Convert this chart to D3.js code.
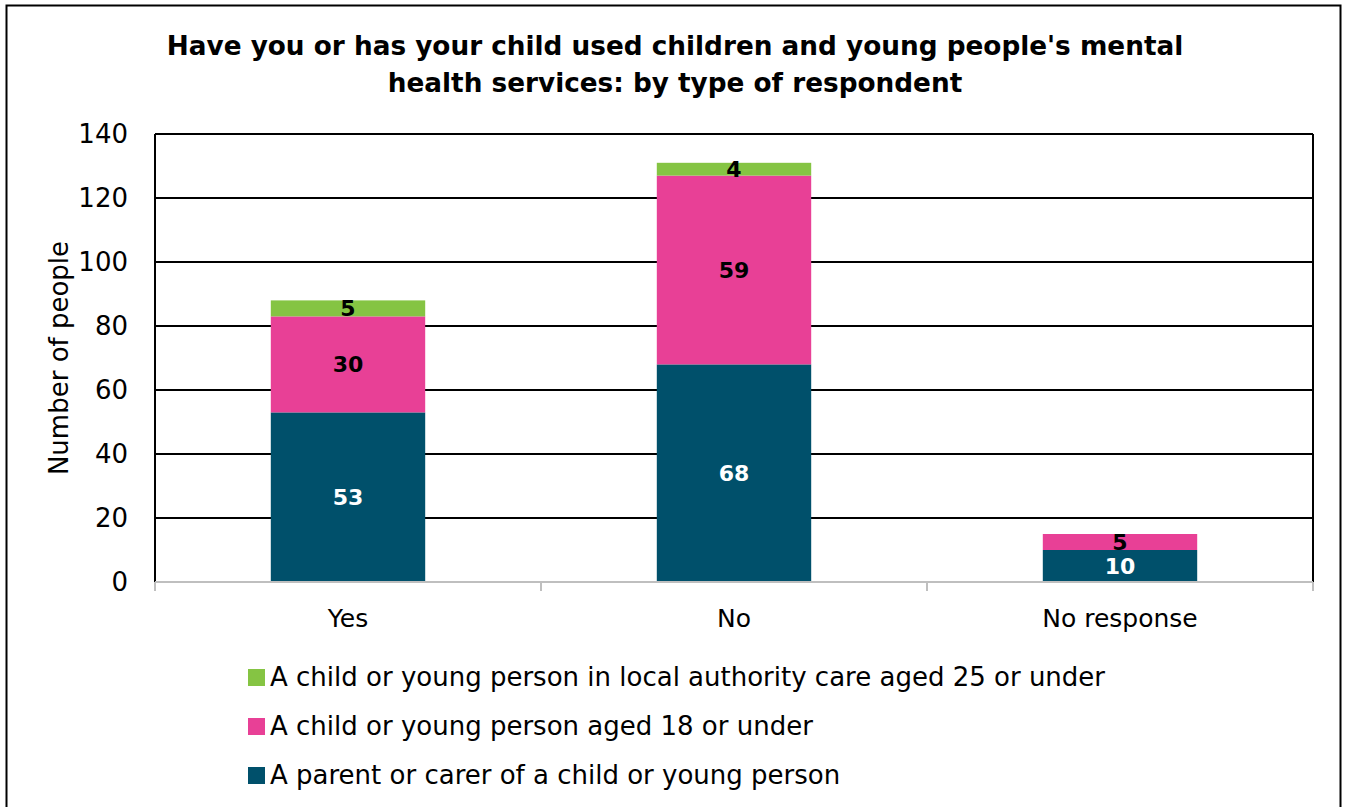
<!DOCTYPE html>
<html lang="en">
<head>
<meta charset="UTF-8"/>
<title>Mental health services by type of respondent</title>
<script src="https://d3js.org/d3.v7.min.js"></script>
<style>
  body { margin: 0; background: #fff; }
  svg { font-family: "DejaVu Sans", sans-serif; }
</style>
</head>
<body>
<script>
    // chart data
    var categories = ["Yes", "No", "No response"];
    var seriesNames = [
        "A parent or carer of a child or young person",
        "A child or young person aged 18 or under",
        "A child or young person in local authority care aged 25 or under"
    ];
    var parentValues = [53, 68, 10];
    var childValues = [30, 59, 5];
    var careValues = [5, 4, 0];
    var yTicks = [0, 20, 40, 60, 80, 100, 120, 140];
    var colours = ["#00506b", "#e84096", "#85c443"];

    var w = 1345, h = 807;
    var plotLeft = 155, plotRight = 1313, plotTop = 134, plotBottom = 582;

    var svg = d3.select("body").append("svg")
        .attr("width", w)
        .attr("height", h);

    // outer frame
    svg.append("rect")
        .attr("x", 6.5).attr("y", 5.5)
        .attr("width", 1334).attr("height", 820)
        .attr("fill", "none").attr("stroke", "#000").attr("stroke-width", 2);

    // title
    svg.append("text")
        .attr("x", 675).attr("y", 55)
        .attr("text-anchor", "middle")
        .attr("font-size", "26.3px").attr("font-weight", "bold")
        .text("Have you or has your child used children and young people's mental");
    svg.append("text")
        .attr("x", 675).attr("y", 92)
        .attr("text-anchor", "middle")
        .attr("font-size", "26.3px").attr("font-weight", "bold")
        .text("health services: by type of respondent");

    var xScale = d3.scaleBand()
        .domain(categories)
        .range([plotLeft, plotRight])
        .paddingInner(0.6)
        .paddingOuter(0.3);

    var yScale = d3.scaleLinear()
        .domain([0, 140])
        .range([plotBottom, plotTop]);

    // gridlines
    svg.append("g")
        .selectAll("line")
        .data(yTicks.slice(1))
        .enter()
        .append("line")
        .attr("x1", plotLeft).attr("x2", plotRight)
        .attr("y1", function (d) { return yScale(d); })
        .attr("y2", function (d) { return yScale(d); })
        .attr("stroke", "#000").attr("stroke-width", 2);

    // plot frame left/right
    svg.append("line").attr("x1", plotLeft).attr("x2", plotLeft).attr("y1", plotTop).attr("y2", plotBottom)
        .attr("stroke", "#000").attr("stroke-width", 2);
    svg.append("line").attr("x1", plotRight).attr("x2", plotRight).attr("y1", plotTop).attr("y2", plotBottom)
        .attr("stroke", "#000").attr("stroke-width", 2);

    // stacked data
    var table = categories.map(function (c, i) {
        return { cat: c, parent: parentValues[i], child: childValues[i], care: careValues[i] };
    });
    var stack = d3.stack().keys(["parent", "child", "care"]);
    var layers = stack(table);

    var groups = svg.selectAll("g.layer")
        .data(layers)
        .enter()
        .append("g")
        .attr("class", "layer")
        .attr("fill", function (d, i) { return colours[i]; });

    groups.selectAll("rect")
        .data(function (d) { return d; })
        .enter()
        .append("rect")
        .attr("x", function (d) { return xScale(d.data.cat); })
        .attr("width", xScale.bandwidth())
        .attr("y", function (d) { return yScale(d[1]); })
        .attr("height", function (d) { return yScale(d[0]) - yScale(d[1]); });

    // value labels
    layers.forEach(function (layer, li) {
        svg.append("g").selectAll("text")
            .data(layer.filter(function (d) { return d[1] - d[0] > 0; }))
            .enter()
            .append("text")
            .attr("x", function (d) { return xScale(d.data.cat) + xScale.bandwidth() / 2; })
            .attr("y", function (d) { return yScale((d[0] + d[1]) / 2) + 8; })
            .attr("text-anchor", "middle")
            .attr("font-size", "22px").attr("font-weight", "bold")
            .attr("fill", li === 0 ? "#fff" : "#000")
            .text(function (d) { return d[1] - d[0]; });
    });

    // x axis
    var xAxis = svg.append("g")
        .attr("transform", "translate(0," + plotBottom + ")");
    xAxis.append("line").attr("x1", plotLeft).attr("x2", plotRight).attr("y1", 0).attr("y2", 0)
        .attr("stroke", "#bfbfbf").attr("stroke-width", 2);
    var edges = categories.map(function (c) { return xScale(c) - xScale.step() * 0.3; });
    edges.push(plotRight);
    xAxis.selectAll("line.tick")
        .data(edges)
        .enter()
        .append("line")
        .attr("class", "tick")
        .attr("x1", function (d) { return d; }).attr("x2", function (d) { return d; })
        .attr("y1", 0).attr("y2", 9)
        .attr("stroke", "#bfbfbf").attr("stroke-width", 2);
    xAxis.selectAll("text")
        .data(categories)
        .enter()
        .append("text")
        .attr("x", function (d) { return xScale(d) + xScale.bandwidth() / 2; })
        .attr("y", 45)
        .attr("text-anchor", "middle")
        .attr("font-size", "25px")
        .text(function (d) { return d; });

    // y axis labels
    svg.append("g").selectAll("text")
        .data(yTicks)
        .enter()
        .append("text")
        .attr("x", 128)
        .attr("y", function (d) { return yScale(d) + 9; })
        .attr("text-anchor", "end")
        .attr("font-size", "26px")
        .text(function (d) { return d; });

    svg.append("text")
        .attr("transform", "translate(68," + ((plotTop + plotBottom) / 2) + ") rotate(-90)")
        .attr("text-anchor", "middle")
        .attr("font-size", "26px")
        .text("Number of people");

    // legend (reverse order, top = care)
    var legendItems = [2, 1, 0];
    var legend = svg.selectAll("g.legend")
        .data(legendItems)
        .enter()
        .append("g")
        .attr("class", "legend")
        .attr("transform", function (d, i) { return "translate(248," + (677 + i * 49) + ")"; });
    legend.append("rect")
        .attr("x", 0).attr("y", -8)
        .attr("width", 17).attr("height", 17)
        .attr("fill", function (d) { return colours[d]; });
    legend.append("text")
        .attr("x", 22).attr("y", 9)
        .attr("font-size", "26px")
        .text(function (d) { return seriesNames[d]; });
</script>
</body>
</html>
